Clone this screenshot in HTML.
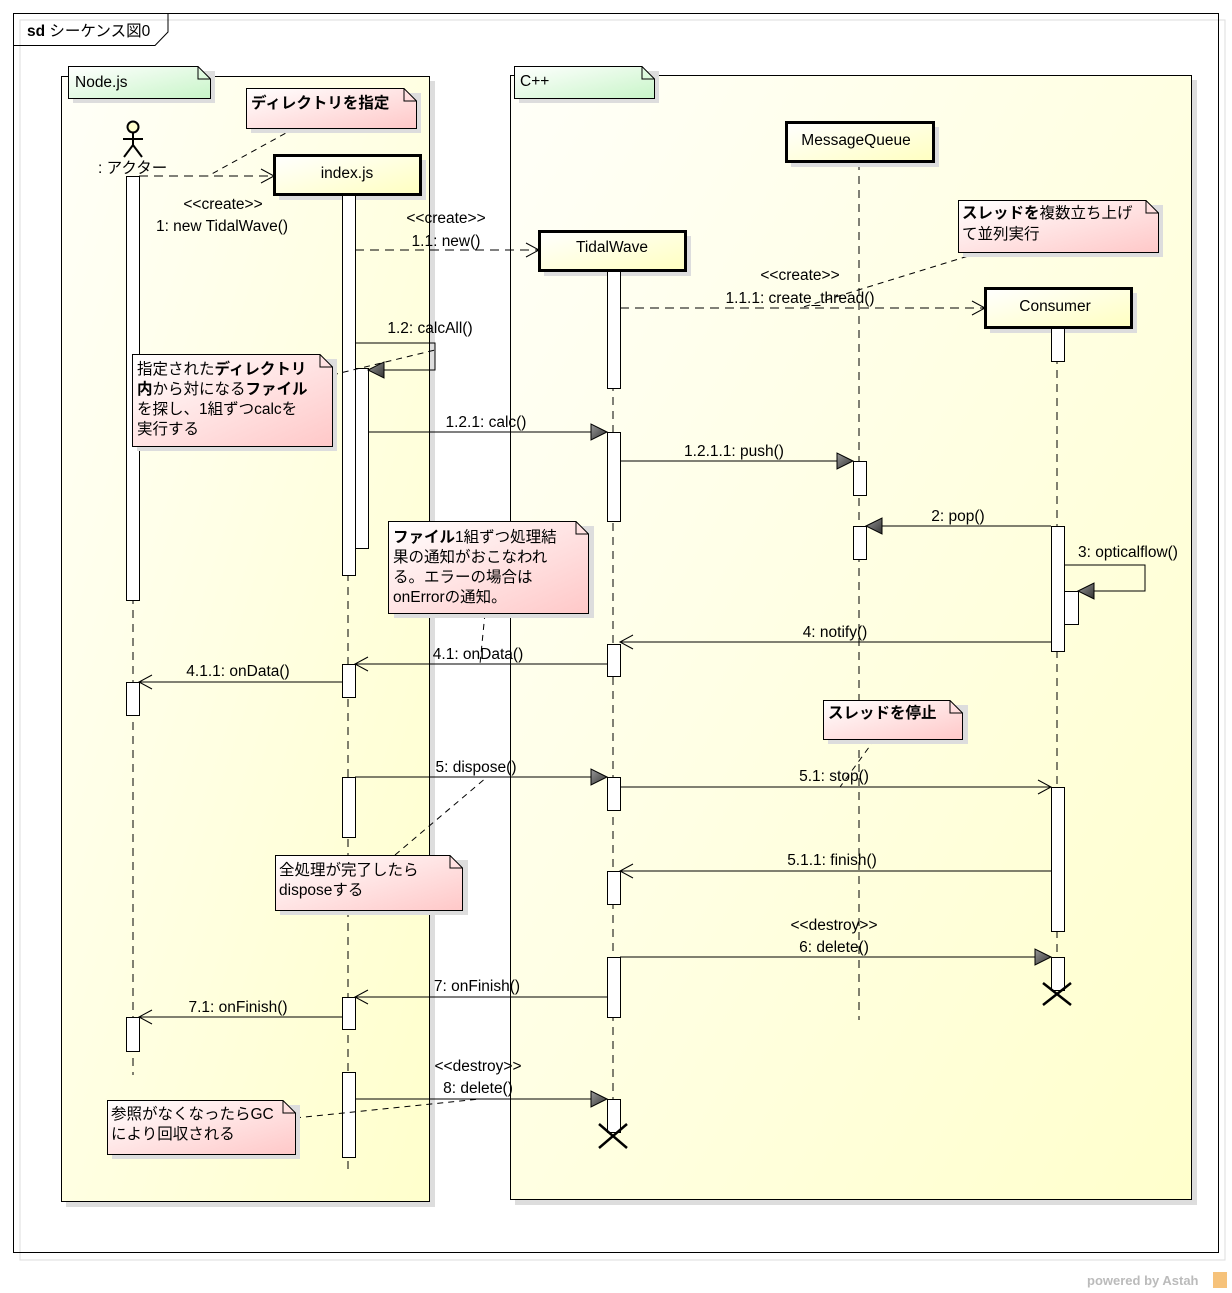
<!DOCTYPE html>
<html><head><meta charset="utf-8"><style>
html,body{margin:0;padding:0;background:#fff;}
svg{display:block;}
text{font-family:"Liberation Sans","Noto Sans CJK JP",sans-serif;font-size:14px;fill:#000;}
.m text{font-size:15.5px;}
.h{font-size:15.5px;}
.b{font-weight:bold;}
</style></head><body>
<svg width="1232" height="1293" viewBox="0 0 1232 1293" xmlns="http://www.w3.org/2000/svg">
<defs>
<linearGradient id="yel" x1="0" y1="0" x2="1" y2="1"><stop offset="0" stop-color="#fffff8"/><stop offset="1" stop-color="#ffffcc"/></linearGradient>
<linearGradient id="lbox" x1="0" y1="0" x2="1" y2="1"><stop offset="0" stop-color="#ffffff"/><stop offset="1" stop-color="#ffffc0"/></linearGradient>
<linearGradient id="pink" x1="0" y1="0" x2="1" y2="1"><stop offset="0" stop-color="#ffffff"/><stop offset="1" stop-color="#ffc8c8"/></linearGradient>
<linearGradient id="green" x1="0" y1="0" x2="1" y2="1"><stop offset="0" stop-color="#ffffff"/><stop offset="1" stop-color="#c8f5c8"/></linearGradient>
<linearGradient id="tri" x1="0" y1="0" x2="1" y2="1"><stop offset="0" stop-color="#999"/><stop offset="1" stop-color="#333"/></linearGradient>
</defs>
<rect x="20" y="20" width="1205" height="1240" fill="none" stroke="#ddd"/>
<rect x="13.5" y="13.5" width="1205" height="1239" fill="none" stroke="#000"/>
<path d="M13.5 45.5 H155 L168 32 V13.5" fill="none" stroke="#000"/>
<text x="27" y="36" class="h"><tspan class="b">sd</tspan> シーケンス図0</text>
<text x="1087" y="1285" style="font-size:13px;font-weight:bold;fill:#bbb">powered by Astah</text>
<rect x="1213" y="1272" width="14" height="16" fill="#f6c27a"/>

<rect x="66" y="81" width="369" height="1126" fill="#ddd"/>
<rect x="61.5" y="76.5" width="368" height="1125" fill="url(#yel)" stroke="#000"/>
<rect x="515" y="80" width="682" height="1125" fill="#ddd"/>
<rect x="510.5" y="75.5" width="681" height="1124" fill="url(#yel)" stroke="#000"/>
<rect x="73" y="71" width="142" height="32" fill="#ddd"/>
<path d="M68.5 66.5 H198 L210.5 79 V98.5 H68.5 Z" fill="url(#green)" stroke="#000"/>
<path d="M198 66.5 V79 H210.5" fill="none" stroke="#000"/>
<text x="75" y="87" class="h">Node.js</text>
<rect x="519" y="71" width="140" height="32" fill="#ddd"/>
<path d="M514.5 66.5 H642 L654.5 79 V98.5 H514.5 Z" fill="url(#green)" stroke="#000"/>
<path d="M642 66.5 V79 H654.5" fill="none" stroke="#000"/>
<text x="520" y="86" class="h">C++</text>

<g stroke="#000" stroke-dasharray="8,6">
<line x1="133" y1="176" x2="133" y2="1075"/>
<line x1="348" y1="195" x2="348" y2="1170"/>
<line x1="613" y1="271" x2="613" y2="1130"/>
<line x1="859" y1="162" x2="859" y2="1020"/>
<line x1="1057" y1="328" x2="1057" y2="990"/>
</g>

<circle cx="133" cy="127" r="5.5" fill="#ffffcc" stroke="#000" stroke-width="2"/>
<path d="M133 133 V145 M123 139 H143 M133 145 L124 157 M133 145 L142 157" stroke="#000" stroke-width="2" fill="none"/>
<text x="98" y="173" class="h">: アクター</text>

<g class="m">
<rect x="279" y="160" width="147" height="40" fill="#ddd"/>
<rect x="274.5" y="155.5" width="146" height="39" fill="url(#lbox)" stroke="#000" stroke-width="3"/>
<text x="347" y="178" text-anchor="middle">index.js</text>
<rect x="544" y="236" width="147" height="40" fill="#ddd"/>
<rect x="539.5" y="231.5" width="146" height="39" fill="url(#lbox)" stroke="#000" stroke-width="3"/>
<text x="612" y="252" text-anchor="middle">TidalWave</text>
<rect x="791" y="127" width="148" height="40" fill="#ddd"/>
<rect x="786.5" y="122.5" width="147" height="39" fill="url(#lbox)" stroke="#000" stroke-width="3"/>
<text x="856" y="145" text-anchor="middle">MessageQueue</text>
<rect x="990" y="293" width="147" height="40" fill="#ddd"/>
<rect x="985.5" y="288.5" width="146" height="39" fill="url(#lbox)" stroke="#000" stroke-width="3"/>
<text x="1055" y="311" text-anchor="middle">Consumer</text>
</g>

<g fill="#fff" stroke="#000">
<rect x="126.5" y="176.5" width="13" height="424"/>
<rect x="126.5" y="682.5" width="13" height="33"/>
<rect x="126.5" y="1017.5" width="13" height="34"/>
<rect x="342.5" y="195.5" width="13" height="380"/>
<rect x="355.5" y="368.5" width="13" height="180"/>
<rect x="342.5" y="664.5" width="13" height="33"/>
<rect x="342.5" y="777.5" width="13" height="60"/>
<rect x="342.5" y="997.5" width="13" height="32"/>
<rect x="342.5" y="1072.5" width="13" height="85"/>
<rect x="607.5" y="271.5" width="13" height="117"/>
<rect x="607.5" y="432.5" width="13" height="89"/>
<rect x="607.5" y="644.5" width="13" height="32"/>
<rect x="607.5" y="777.5" width="13" height="33"/>
<rect x="607.5" y="871.5" width="13" height="33"/>
<rect x="607.5" y="957.5" width="13" height="60"/>
<rect x="607.5" y="1099.5" width="13" height="33"/>
<rect x="853.5" y="461.5" width="13" height="34"/>
<rect x="853.5" y="526.5" width="13" height="33"/>
<rect x="1051.5" y="328.5" width="13" height="33"/>
<rect x="1051.5" y="526.5" width="13" height="125"/>
<rect x="1064.5" y="591.5" width="14" height="33"/>
<rect x="1051.5" y="787.5" width="13" height="144"/>
<rect x="1051.5" y="957.5" width="13" height="33"/>
</g>
<path d="M599 1124 L627 1148 M627 1124 L599 1148" stroke="#000" stroke-width="2.5"/>
<path d="M1043 983 L1071 1005 M1071 983 L1043 1005" stroke="#000" stroke-width="2.5"/>

<g stroke="#000" fill="none">
<line x1="139" y1="176" x2="273" y2="176" stroke-dasharray="9,6"/>
<path d="M261 169 L274 176 L261 183"/>
<line x1="355" y1="250" x2="538" y2="250" stroke-dasharray="9,6"/>
<path d="M526 243 L539 250 L526 257"/>
<line x1="620" y1="308" x2="984" y2="308" stroke-dasharray="9,6"/>
<path d="M972 301 L985 308 L972 315"/>
<path d="M355 343 H435 V370 H382"/>
<line x1="368" y1="432" x2="592" y2="432"/>
<line x1="620" y1="461" x2="838" y2="461"/>
<line x1="1051" y1="526" x2="882" y2="526"/>
<path d="M1064 565 H1145 V591 H1094"/>
<line x1="1051" y1="642" x2="621" y2="642"/>
<path d="M633 635 L620 642 L633 649"/>
<line x1="607" y1="664" x2="356" y2="664"/>
<path d="M368 657 L355 664 L368 671"/>
<line x1="342" y1="682" x2="140" y2="682"/>
<path d="M152 675 L139 682 L152 689"/>
<line x1="355" y1="777" x2="592" y2="777"/>
<line x1="620" y1="787" x2="1050" y2="787"/>
<path d="M1038 780 L1051 787 L1038 794"/>
<line x1="1051" y1="871" x2="621" y2="871"/>
<path d="M633 864 L620 871 L633 878"/>
<line x1="620" y1="957" x2="1036" y2="957"/>
<line x1="607" y1="997" x2="356" y2="997"/>
<path d="M368 990 L355 997 L368 1004"/>
<line x1="342" y1="1017" x2="140" y2="1017"/>
<path d="M152 1010 L139 1017 L152 1024"/>
<line x1="355" y1="1099" x2="592" y2="1099"/>
</g>
<g fill="url(#tri)" stroke="#000">
<path d="M368 370 L384 362 L384 378 Z"/>
<path d="M607 432 L591 424 L591 440 Z"/>
<path d="M853 461 L837 453 L837 469 Z"/>
<path d="M866 526 L882 518 L882 534 Z"/>
<path d="M1078 591 L1094 583 L1094 599 Z"/>
<path d="M607 777 L591 769 L591 785 Z"/>
<path d="M1051 957 L1035 949 L1035 965 Z"/>
<path d="M607 1099 L591 1091 L591 1107 Z"/>
</g>

<g text-anchor="middle" class="m">
<text x="223" y="209">&lt;&lt;create&gt;&gt;</text>
<text x="222" y="231">1: new TidalWave()</text>
<text x="446" y="223">&lt;&lt;create&gt;&gt;</text>
<text x="446" y="246">1.1: new()</text>
<text x="800" y="280">&lt;&lt;create&gt;&gt;</text>
<text x="800" y="303">1.1.1: create_thread()</text>
<text x="430" y="333">1.2: calcAll()</text>
<text x="486" y="427">1.2.1: calc()</text>
<text x="734" y="456">1.2.1.1: push()</text>
<text x="958" y="521">2: pop()</text>
<text x="1128" y="557">3: opticalflow()</text>
<text x="835" y="637">4: notify()</text>
<text x="478" y="659">4.1: onData()</text>
<text x="238" y="676">4.1.1: onData()</text>
<text x="476" y="772">5: dispose()</text>
<text x="834" y="781">5.1: stop()</text>
<text x="832" y="865">5.1.1: finish()</text>
<text x="834" y="930">&lt;&lt;destroy&gt;&gt;</text>
<text x="834" y="952">6: delete()</text>
<text x="477" y="991">7: onFinish()</text>
<text x="238" y="1012">7.1: onFinish()</text>
<text x="478" y="1071">&lt;&lt;destroy&gt;&gt;</text>
<text x="478" y="1093">8: delete()</text>
</g>

<g stroke="#000" stroke-dasharray="6,5" fill="none">
<line x1="295" y1="128" x2="208" y2="176"/>
<line x1="978" y1="253" x2="800" y2="308"/>
<line x1="332" y1="375" x2="435" y2="350"/>
<line x1="485" y1="613" x2="480" y2="664"/>
<line x1="875" y1="739" x2="840" y2="787"/>
<line x1="395" y1="855" x2="487" y2="777"/>
<line x1="295" y1="1118" x2="480" y2="1099"/>
</g>

<g stroke="#000">
<rect x="251" y="93" width="170" height="40" fill="#ddd" stroke="none"/>
<path d="M246.5 88.5 H404 L416.5 101 V128.5 H246.5 Z" fill="url(#pink)"/>
<path d="M404 88.5 V101 H416.5" fill="none"/>
<rect x="963" y="205" width="200" height="52" fill="#ddd" stroke="none"/>
<path d="M958.5 200.5 H1146 L1158.5 213 V252.5 H958.5 Z" fill="url(#pink)"/>
<path d="M1146 200.5 V213 H1158.5" fill="none"/>
<rect x="137" y="359" width="200" height="92" fill="#ddd" stroke="none"/>
<path d="M132.5 354.5 H320 L332.5 367 V446.5 H132.5 Z" fill="url(#pink)"/>
<path d="M320 354.5 V367 H332.5" fill="none"/>
<rect x="394" y="526" width="200" height="92" fill="#ddd" stroke="none"/>
<path d="M388.5 521.5 H576 L588.5 534 V613.5 H388.5 Z" fill="url(#pink)"/>
<path d="M576 521.5 V534 H588.5" fill="none"/>
<rect x="828" y="705" width="140" height="39" fill="#ddd" stroke="none"/>
<path d="M823.5 700.5 H950 L962.5 713 V739.5 H823.5 Z" fill="url(#pink)"/>
<path d="M950 700.5 V713 H962.5" fill="none"/>
<rect x="280" y="860" width="188" height="55" fill="#ddd" stroke="none"/>
<path d="M275.5 855.5 H450 L462.5 868 V910.5 H275.5 Z" fill="url(#pink)"/>
<path d="M450 855.5 V868 H462.5" fill="none"/>
<rect x="112" y="1105" width="188" height="54" fill="#ddd" stroke="none"/>
<path d="M107.5 1100.5 H283 L295.5 1113 V1154.5 H107.5 Z" fill="url(#pink)"/>
<path d="M283 1100.5 V1113 H295.5" fill="none"/>
</g>
<g class="m">
<text x="251" y="108" class="b">ディレクトリを指定</text>
<text x="962" y="218"><tspan class="b">スレッドを</tspan>複数立ち上げ</text>
<text x="962" y="239">て並列実行</text>
<text x="137" y="374">指定された<tspan class="b">ディレクトリ</tspan></text>
<text x="137" y="394"><tspan class="b">内</tspan>から対になる<tspan class="b">ファイル</tspan></text>
<text x="137" y="414">を探し、1組ずつcalcを</text>
<text x="137" y="434">実行する</text>
<text x="393" y="542"><tspan class="b">ファイル</tspan>1組ずつ処理結</text>
<text x="393" y="562">果の通知がおこなわれ</text>
<text x="393" y="582">る。エラーの場合は</text>
<text x="393" y="602">onErrorの通知。</text>
<text x="828" y="718" class="b">スレッドを停止</text>
<text x="279" y="875">全処理が完了したら</text>
<text x="279" y="895">disposeする</text>
<text x="111" y="1119">参照がなくなったらGC</text>
<text x="111" y="1139">により回収される</text>
</g>
</svg>
</body></html>
